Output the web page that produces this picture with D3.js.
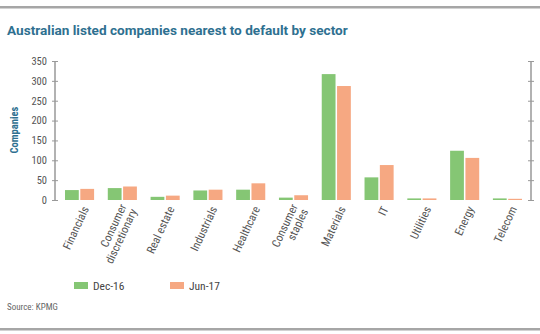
<!DOCTYPE html>
<html><head><meta charset="utf-8">
<script src="https://cdn.jsdelivr.net/npm/d3@7"></script>
<style>body{margin:0;background:#fff;}svg{display:block;}</style>
</head><body>
<svg id="c" width="540" height="334"></svg>
<script>
const categories = [["Financials"],["Consumer","discretionary"],["Real estate"],["Industrials"],["Healthcare"],["Consumer","staples"],["Materials"],["IT"],["Utilities"],["Energy"],["Telecom"]];
const seriesNames = ["Dec-16","Jun-17"];
const dec16 = [25,30,8,24,26,6,317,57,4,124,4];
const jun17 = [28,34,11,26,42,12,287,88,4,106,3];
const yTicks = [0,50,100,150,200,250,300,350];
const colors = ["#85c674","#f6a882"];

const svg = d3.select("#c");
const font = "'Roboto Condensed','Roboto','Liberation Sans Narrow',sans-serif";

svg.append("rect").attr("x",0).attr("y",6).attr("width",540).attr("height",2.5).attr("fill","#a6a6a6");
svg.append("rect").attr("x",0).attr("y",328).attr("width",540).attr("height",2.5).attr("fill","#a6a6a6");

svg.append("text").attr("x",7).attr("y",35).text("Australian listed companies nearest to default by sector")
  .attr("font-family","Roboto,sans-serif").attr("font-weight","bold").attr("font-size",13.6).attr("fill","#2e7090");

const y = d3.scaleLinear().domain([0,350]).range([200,61]);
const x0 = d3.scaleBand().domain(d3.range(categories.length)).range([65,522]).paddingInner(0.32).paddingOuter(0);
const x1 = d3.scaleBand().domain([0,1]).range([0,x0.bandwidth()]).paddingInner(0.1);

const yAxis = d3.axisLeft(y).tickValues(yTicks).tickSize(3).tickPadding(5);
const gl = svg.append("g").attr("transform","translate(55,0)").call(yAxis);
gl.selectAll(".tick line").attr("x2",-3).attr("x1",3).attr("stroke","#999");
gl.select(".domain").attr("stroke","#999").attr("stroke-width",1.5).attr("d","M0,61V200");
gl.selectAll("text").attr("font-family",font).attr("font-size",10.5).attr("fill","#555");

const yAxisR = d3.axisRight(y).tickValues(yTicks).tickSize(3).tickFormat("");
const gr = svg.append("g").attr("transform","translate(531,0)").call(yAxisR);
gr.selectAll(".tick line").attr("x2",3).attr("x1",-3).attr("stroke","#999");
gr.select(".domain").attr("stroke","#999").attr("stroke-width",1.5).attr("d","M0,61V200");

svg.append("text").attr("transform","translate(18,130) rotate(-90)").attr("text-anchor","middle")
  .attr("font-family",font).attr("font-weight","bold").attr("font-size",10.5).attr("fill","#2e7090").text("Companies");

const data = [dec16, jun17];
const g = svg.append("g");
categories.forEach((c,i)=>{
  data.forEach((s,j)=>{
    g.append("rect").attr("x",x0(i)+x1(j)).attr("width",x1.bandwidth())
      .attr("y",y(s[i])).attr("height",y(0)-y(s[i])).attr("fill",colors[j]);
  });
  const cx = x0(i)+x0.bandwidth()/2 + 6;
  const t = svg.append("text").attr("transform",`translate(${cx},207) rotate(-65)`)
    .attr("text-anchor","end").attr("font-family",font).attr("font-size",11.5).attr("fill","#555");
  const n = c.length;
  c.forEach((line,k)=>{
    t.append("tspan").attr("x",0).attr("dy", k===0 ? (0.35 - (n-1)*0.5)+"em" : "1.0em").text(line);
  });
});

const lg = svg.append("g");
seriesNames.forEach((nm,j)=>{
  const lx = 74 + j*96;
  lg.append("rect").attr("x",lx).attr("y",282).attr("width",14).attr("height",7).attr("fill",colors[j]);
  lg.append("text").attr("x",lx+19).attr("y",290).text(nm).attr("font-family",font).attr("font-size",11.5).attr("fill","#444");
});

svg.append("text").attr("x",7).attr("y",310).text("Source: KPMG").attr("font-family",font).attr("font-size",9).attr("fill","#666");
</script>
</body></html>
